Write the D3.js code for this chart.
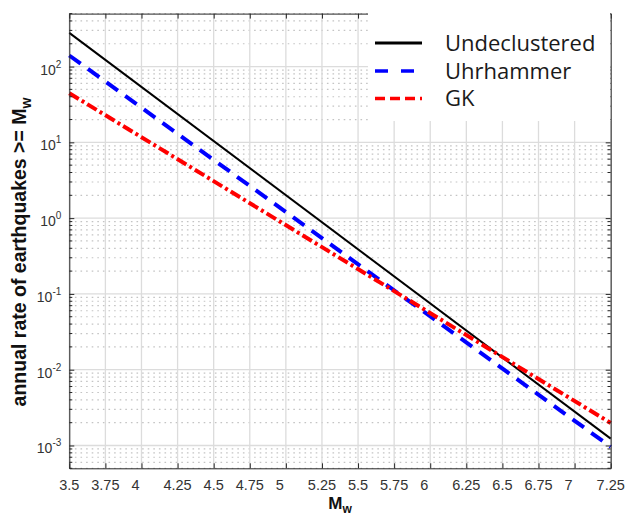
<!DOCTYPE html>
<html>
<head>
<meta charset="utf-8">
<script src="https://cdn.jsdelivr.net/npm/d3@7"></script>
<style>
  body { margin: 0; background: #fff; overflow: hidden; }
  svg { display: block; }
</style>
</head>
<body>
<div id="chart"></div>
<script>
// Data (straight lines in log space, endpoints)
const magnitudes = [3.5, 7.25];
const undeclustered = [278, 1.23e-3];
const uhrhammer = [140, 9.6e-4];
const gk = [44.5, 1.98e-3];

const seriesNames = ["Undeclustered", "Uhrhammer", "GK"];
const xTicks = [3.5, 3.75, 4, 4.25, 4.5, 4.75, 5, 5.25, 5.5, 5.75, 6, 6.25, 6.5, 6.75, 7, 7.25];
const yDecades = [-3, -2, -1, 0, 1, 2];

const width = 627, height = 518;
const margin = {top: 13.6, right: 16.3, bottom: 49.7, left: 69.3};
const innerWidth = width - margin.left - margin.right;
const innerHeight = height - margin.top - margin.bottom;

const svg = d3.select("#chart").append("svg")
    .attr("width", width).attr("height", height);
const g = svg.append("g").attr("transform", `translate(${margin.left},${margin.top})`);

const x = d3.scaleLinear().domain([3.5, 7.25]).range([0, innerWidth]);
const y = d3.scaleLog().domain([5e-4, 5e2]).range([innerHeight, 0]);

// minor log positions
const minorVals = [];
for (let e = -4; e <= 2; e++) {
    for (let m = 2; m <= 9; m++) {
        const v = m * Math.pow(10, e);
        if (v >= 5e-4 && v <= 5e2) minorVals.push(v);
    }
}

// Grid: minor dotted, then major solid
g.append("g").selectAll("line").data(minorVals).join("line")
    .attr("x1", 0).attr("x2", innerWidth)
    .attr("y1", d => y(d)).attr("y2", d => y(d))
    .attr("stroke", "#c4c4c4").attr("stroke-width", 1.2)
    .attr("stroke-dasharray", "1.6,4");

g.append("g").selectAll("line").data(xTicks).join("line")
    .attr("x1", d => x(d)).attr("x2", d => x(d))
    .attr("y1", 0).attr("y2", innerHeight)
    .attr("stroke", "#dcdcdc").attr("stroke-width", 1.3);

g.append("g").selectAll("line").data(yDecades).join("line")
    .attr("x1", 0).attr("x2", innerWidth)
    .attr("y1", d => y(Math.pow(10, d))).attr("y2", d => y(Math.pow(10, d)))
    .attr("stroke", "#dcdcdc").attr("stroke-width", 1.3);

// Series
const series = [
    {name: seriesNames[0], values: undeclustered, color: "#000000", width: 2, dash: null},
    {name: seriesNames[1], values: uhrhammer, color: "#0000ff", width: 4, dash: "14,9"},
    {name: seriesNames[2], values: gk, color: "#ff0000", width: 4, dash: "11,3.5,3,3.5"}
];

const line = d3.line().x(d => x(d[0])).y(d => y(d[1]));

series.forEach(s => {
    g.append("path")
        .datum(magnitudes.map((m, i) => [m, s.values[i]]))
        .attr("fill", "none")
        .attr("stroke", s.color)
        .attr("stroke-width", s.width)
        .attr("stroke-dasharray", s.dash)
        .attr("d", line);
});

// Axes (MATLAB-like box with inward ticks)
const axisColor = "#262626";

function frameAxis(axis, transform) {
    const a = g.append("g").attr("transform", transform).call(axis);
    a.select(".domain").attr("stroke", axisColor);
    a.selectAll(".tick line").attr("stroke", axisColor);
    a.selectAll(".tick text").remove();
    return a;
}

const yMajorVals = yDecades.map(d => Math.pow(10, d));
frameAxis(d3.axisBottom(x).tickValues(xTicks).tickSizeInner(-5).tickSizeOuter(0), `translate(0,${innerHeight})`);
frameAxis(d3.axisTop(x).tickValues(xTicks).tickSizeInner(-5).tickSizeOuter(0), null);
frameAxis(d3.axisLeft(y).tickValues(yMajorVals).tickSizeInner(-5).tickSizeOuter(0), null);
frameAxis(d3.axisRight(y).tickValues(yMajorVals).tickSizeInner(-5).tickSizeOuter(0), `translate(${innerWidth},0)`);

// minor ticks on left and right
g.append("g").selectAll("line").data(minorVals).join("line")
    .attr("x1", 0).attr("x2", 3)
    .attr("y1", d => y(d)).attr("y2", d => y(d))
    .attr("stroke", axisColor);
g.append("g").selectAll("line").data(minorVals).join("line")
    .attr("x1", innerWidth - 3).attr("x2", innerWidth)
    .attr("y1", d => y(d)).attr("y2", d => y(d))
    .attr("stroke", axisColor);

// X tick labels
g.append("g").selectAll("text").data(xTicks).join("text")
    .attr("x", d => x(d) + (Number.isInteger(d) ? -6 : 0))
    .attr("y", innerHeight + 22)
    .attr("text-anchor", "middle")
    .attr("font-family", "'Liberation Sans', Arial, sans-serif")
    .attr("font-size", "14.5px")
    .attr("fill", "#333")
    .text(d => String(d));

// Y tick labels as 10^n
const yLab = g.append("g").selectAll("text").data(yDecades).join("text")
    .attr("x", -8)
    .attr("y", d => y(Math.pow(10, d)) + 8)
    .attr("text-anchor", "end")
    .attr("font-family", "'Liberation Sans', Arial, sans-serif")
    .attr("font-size", "14px")
    .attr("fill", "#333");
yLab.append("tspan").text("10");
yLab.append("tspan").attr("dy", -7).attr("font-size", "10px").text(d => String(d));

// Axis titles
const xt = svg.append("text")
    .attr("x", margin.left + innerWidth / 2)
    .attr("y", 509)
    .attr("text-anchor", "middle")
    .attr("font-family", "'Liberation Sans', Arial, sans-serif")
    .attr("font-weight", "bold")
    .attr("font-size", "17px")
    .attr("fill", "#111");
xt.append("tspan").text("M");
xt.append("tspan").attr("dy", 4).attr("font-size", "12px").text("w");

const yt = svg.append("text")
    .attr("transform", `translate(26,252) rotate(-90)`)
    .attr("text-anchor", "middle")
    .attr("font-family", "'Liberation Sans', Arial, sans-serif")
    .attr("font-weight", "bold")
    .attr("font-size", "19.5px")
    .attr("fill", "#111");
yt.append("tspan").text("annual rate of earthquakes >= M");
yt.append("tspan").attr("dy", 5).attr("font-size", "14px").text("w");

// Legend (white box covering the top-right corner)
const legend = svg.append("g");
legend.append("rect")
    .attr("x", 368).attr("y", 6)
    .attr("width", margin.left + innerWidth - 0.5 - 368).attr("height", 115)
    .attr("fill", "#fff");
const legendRows = [43, 71, 98.5];
series.forEach((s, i) => {
    legend.append("line")
        .attr("x1", 375).attr("x2", 422)
        .attr("y1", legendRows[i]).attr("y2", legendRows[i])
        .attr("stroke", s.color)
        .attr("stroke-width", i === 0 ? 3 : 3.5)
        .attr("stroke-dasharray", i === 1 ? "13,13" : i === 2 ? "10,5" : null);
    legend.append("text")
        .attr("x", 445).attr("y", legendRows[i] + 7.5)
        .attr("font-family", "'Open Sans', sans-serif")
        .attr("font-size", "22px")
        .attr("fill", "#1a1a1a")
        .text(s.name);
});
</script>
</body>
</html>
